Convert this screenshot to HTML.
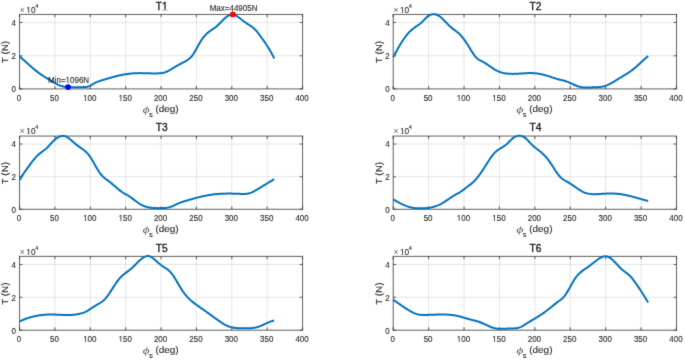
<!DOCTYPE html>
<html><head><meta charset="utf-8"><style>
html,body{margin:0;padding:0;background:#fff;overflow:hidden;width:685px;height:361px;}
svg{display:block;font-family:"Liberation Sans", sans-serif;}
</style></head><body>
<svg width="685" height="361" viewBox="0 0 685 361">
<defs><filter id="bl" x="0" y="0" width="685" height="361" filterUnits="userSpaceOnUse" color-interpolation-filters="sRGB"><feConvolveMatrix order="3" kernelMatrix="0.0183 0.1353 0.0183 0.1353 1.0000 0.1353 0.0183 0.1353 0.0183" edgeMode="duplicate"/></filter></defs><g filter="url(#bl)"><rect width="685" height="361" fill="#fff"/>
<path d="M54.92 14.45V88.90M90.30 14.45V88.90M125.67 14.45V88.90M161.05 14.45V88.90M196.43 14.45V88.90M231.80 14.45V88.90M267.18 14.45V88.90M19.55 55.74H302.55M19.55 22.58H302.55" stroke="#e0e0e0" stroke-width="0.85" fill="none"/>
<path d="M19.55 88.90v-2.9M19.55 14.45v2.9M54.92 88.90v-2.9M54.92 14.45v2.9M90.30 88.90v-2.9M90.30 14.45v2.9M125.67 88.90v-2.9M125.67 14.45v2.9M161.05 88.90v-2.9M161.05 14.45v2.9M196.43 88.90v-2.9M196.43 14.45v2.9M231.80 88.90v-2.9M231.80 14.45v2.9M267.18 88.90v-2.9M267.18 14.45v2.9M302.55 88.90v-2.9M302.55 14.45v2.9M19.55 88.90h2.9M302.55 88.90h-2.9M19.55 55.74h2.9M302.55 55.74h-2.9M19.55 22.58h2.9M302.55 22.58h-2.9" stroke="#262626" stroke-opacity="0.7" stroke-width="1.05" fill="none"/>
<rect x="19.55" y="14.45" width="283.00" height="74.45" fill="none" stroke="#262626" stroke-width="1.05" stroke-opacity="0.7"/>
<polyline points="19.55,56.34 20.19,56.89 20.83,57.44 21.47,58.00 22.10,58.56 22.74,59.13 23.38,59.70 24.02,60.27 24.66,60.84 25.30,61.42 25.93,61.99 26.57,62.57 27.21,63.15 27.85,63.73 28.49,64.30 29.13,64.88 29.76,65.45 30.40,66.02 31.04,66.58 31.68,67.14 32.32,67.70 32.96,68.25 33.59,68.79 34.23,69.33 34.87,69.86 35.51,70.38 36.15,70.90 36.79,71.40 37.42,71.90 38.06,72.38 38.70,72.86 39.34,73.32 39.98,73.78 40.62,74.23 41.25,74.67 41.89,75.10 42.53,75.52 43.17,75.94 43.81,76.35 44.45,76.76 45.08,77.16 45.72,77.56 46.36,77.95 47.00,78.34 47.64,78.73 48.28,79.12 48.91,79.50 49.55,79.88 50.19,80.27 50.83,80.65 51.47,81.04 52.11,81.42 52.74,81.81 53.38,82.19 54.02,82.57 54.66,82.94 55.30,83.30 55.94,83.65 56.57,83.99 57.21,84.32 57.85,84.63 58.49,84.92 59.13,85.20 59.77,85.46 60.40,85.69 61.04,85.90 61.68,86.09 62.32,86.26 62.96,86.42 63.60,86.55 64.23,86.67 64.87,86.78 65.51,86.87 66.15,86.96 66.79,87.03 67.43,87.09 68.06,87.14 68.70,87.19 69.34,87.23 69.98,87.27 70.62,87.30 71.26,87.32 71.89,87.34 72.53,87.35 73.17,87.36 73.81,87.36 74.45,87.36 75.09,87.36 75.72,87.35 76.36,87.34 77.00,87.33 77.64,87.31 78.28,87.29 78.92,87.27 79.55,87.24 80.19,87.22 80.83,87.19 81.47,87.16 82.11,87.13 82.75,87.10 83.38,87.07 84.02,87.03 84.66,87.00 85.30,86.96 85.94,86.90 86.58,86.82 87.21,86.70 87.85,86.54 88.49,86.34 89.13,86.09 89.77,85.80 90.41,85.48 91.04,85.14 91.68,84.78 92.32,84.40 92.96,84.03 93.60,83.66 94.24,83.30 94.87,82.96 95.51,82.65 96.15,82.35 96.79,82.07 97.43,81.81 98.07,81.56 98.70,81.33 99.34,81.11 99.98,80.89 100.62,80.69 101.26,80.49 101.90,80.30 102.53,80.11 103.17,79.92 103.81,79.73 104.45,79.54 105.09,79.35 105.73,79.16 106.37,78.97 107.00,78.78 107.64,78.59 108.28,78.40 108.92,78.21 109.56,78.02 110.20,77.83 110.83,77.65 111.47,77.46 112.11,77.28 112.75,77.10 113.39,76.92 114.03,76.75 114.66,76.58 115.30,76.41 115.94,76.24 116.58,76.08 117.22,75.93 117.86,75.77 118.49,75.62 119.13,75.48 119.77,75.34 120.41,75.20 121.05,75.07 121.69,74.94 122.32,74.82 122.96,74.70 123.60,74.58 124.24,74.47 124.88,74.36 125.52,74.26 126.15,74.16 126.79,74.07 127.43,73.98 128.07,73.90 128.71,73.81 129.35,73.74 129.98,73.67 130.62,73.60 131.26,73.54 131.90,73.48 132.54,73.42 133.18,73.37 133.81,73.33 134.45,73.29 135.09,73.25 135.73,73.22 136.37,73.19 137.01,73.17 137.64,73.15 138.28,73.14 138.92,73.13 139.56,73.12 140.20,73.12 140.84,73.12 141.47,73.13 142.11,73.14 142.75,73.15 143.39,73.16 144.03,73.18 144.67,73.20 145.30,73.21 145.94,73.23 146.58,73.25 147.22,73.27 147.86,73.30 148.50,73.31 149.13,73.33 149.77,73.35 150.41,73.37 151.05,73.38 151.69,73.40 152.33,73.41 152.96,73.42 153.60,73.42 154.24,73.42 154.88,73.42 155.52,73.41 156.16,73.40 156.79,73.39 157.43,73.37 158.07,73.34 158.71,73.31 159.35,73.27 159.99,73.22 160.62,73.16 161.26,73.09 161.90,73.00 162.54,72.90 163.18,72.77 163.82,72.63 164.45,72.46 165.09,72.27 165.73,72.05 166.37,71.80 167.01,71.53 167.65,71.23 168.28,70.91 168.92,70.58 169.56,70.23 170.20,69.87 170.84,69.49 171.48,69.11 172.11,68.72 172.75,68.32 173.39,67.92 174.03,67.52 174.67,67.13 175.31,66.74 175.94,66.35 176.58,65.98 177.22,65.61 177.86,65.26 178.50,64.91 179.14,64.57 179.77,64.24 180.41,63.90 181.05,63.57 181.69,63.24 182.33,62.91 182.97,62.57 183.60,62.23 184.24,61.88 184.88,61.52 185.52,61.15 186.16,60.77 186.80,60.38 187.43,59.97 188.07,59.54 188.71,59.09 189.35,58.60 189.99,58.07 190.63,57.47 191.27,56.80 191.90,56.05 192.54,55.21 193.18,54.29 193.82,53.30 194.46,52.26 195.10,51.17 195.73,50.05 196.37,48.90 197.01,47.74 197.65,46.58 198.29,45.43 198.93,44.29 199.56,43.17 200.20,42.09 200.84,41.04 201.48,40.04 202.12,39.09 202.76,38.20 203.39,37.35 204.03,36.56 204.67,35.82 205.31,35.12 205.95,34.46 206.59,33.84 207.22,33.25 207.86,32.69 208.50,32.16 209.14,31.66 209.78,31.18 210.42,30.72 211.05,30.27 211.69,29.84 212.33,29.42 212.97,28.99 213.61,28.57 214.25,28.13 214.88,27.67 215.52,27.19 216.16,26.68 216.80,26.13 217.44,25.56 218.08,24.96 218.71,24.35 219.35,23.72 219.99,23.07 220.63,22.43 221.27,21.77 221.91,21.12 222.54,20.48 223.18,19.85 223.82,19.23 224.46,18.63 225.10,18.05 225.74,17.50 226.37,16.98 227.01,16.50 227.65,16.05 228.29,15.66 228.93,15.31 229.57,15.01 230.20,14.77 230.84,14.59 231.48,14.48 232.12,14.44 232.76,14.47 233.40,14.57 234.03,14.74 234.67,14.98 235.31,15.26 235.95,15.60 236.59,15.98 237.23,16.39 237.86,16.84 238.50,17.31 239.14,17.80 239.78,18.30 240.42,18.81 241.06,19.32 241.69,19.83 242.33,20.33 242.97,20.81 243.61,21.28 244.25,21.73 244.89,22.18 245.52,22.61 246.16,23.04 246.80,23.46 247.44,23.87 248.08,24.27 248.72,24.67 249.35,25.07 249.99,25.48 250.63,25.90 251.27,26.33 251.91,26.79 252.55,27.27 253.18,27.77 253.82,28.31 254.46,28.89 255.10,29.51 255.74,30.18 256.38,30.89 257.01,31.65 257.65,32.45 258.29,33.28 258.93,34.12 259.57,34.98 260.21,35.85 260.84,36.72 261.48,37.59 262.12,38.47 262.76,39.35 263.40,40.25 264.04,41.15 264.67,42.08 265.31,43.01 265.95,43.97 266.59,44.94 267.23,45.93 267.87,46.94 268.50,47.97 269.14,49.03 269.78,50.11 270.42,51.21 271.06,52.34 271.70,53.50 272.33,54.69 272.97,55.91 273.61,57.16 274.25,58.44" fill="none" stroke="#0072BD" stroke-width="2.0" stroke-linejoin="round"/>
<text transform="translate(19.05,100.50) scale(1.000,1.180)" font-size="8.0" text-anchor="middle" fill="#262626"  stroke="#262626" stroke-width="0.1">0</text>
<text transform="translate(54.42,100.50) scale(1.000,1.180)" font-size="8.0" text-anchor="middle" fill="#262626"  stroke="#262626" stroke-width="0.1">50</text>
<text transform="translate(89.80,100.50) scale(1.000,1.180)" font-size="8.0" text-anchor="middle" fill="#262626"  stroke="#262626" stroke-width="0.1">100</text>
<g transform="translate(89.80,100.50) scale(1.000,1.180)"><rect x="-6.28" y="-0.77" width="1.57" height="1.12" fill="#fff"/><rect x="-3.91" y="-0.77" width="1.53" height="1.12" fill="#fff"/></g>
<text transform="translate(125.17,100.50) scale(1.000,1.180)" font-size="8.0" text-anchor="middle" fill="#262626"  stroke="#262626" stroke-width="0.1">150</text>
<g transform="translate(125.17,100.50) scale(1.000,1.180)"><rect x="-6.28" y="-0.77" width="1.57" height="1.12" fill="#fff"/><rect x="-3.91" y="-0.77" width="1.53" height="1.12" fill="#fff"/></g>
<text transform="translate(160.55,100.50) scale(1.000,1.180)" font-size="8.0" text-anchor="middle" fill="#262626"  stroke="#262626" stroke-width="0.1">200</text>
<text transform="translate(195.93,100.50) scale(1.000,1.180)" font-size="8.0" text-anchor="middle" fill="#262626"  stroke="#262626" stroke-width="0.1">250</text>
<text transform="translate(231.30,100.50) scale(1.000,1.180)" font-size="8.0" text-anchor="middle" fill="#262626"  stroke="#262626" stroke-width="0.1">300</text>
<text transform="translate(266.68,100.50) scale(1.000,1.180)" font-size="8.0" text-anchor="middle" fill="#262626"  stroke="#262626" stroke-width="0.1">350</text>
<text transform="translate(302.05,100.50) scale(1.000,1.180)" font-size="8.0" text-anchor="middle" fill="#262626"  stroke="#262626" stroke-width="0.1">400</text>
<text transform="translate(15.95,92.20) scale(1.000,1.180)" font-size="8.0" text-anchor="end" fill="#262626"  stroke="#262626" stroke-width="0.1">0</text>
<text transform="translate(15.95,59.04) scale(1.000,1.180)" font-size="8.0" text-anchor="end" fill="#262626"  stroke="#262626" stroke-width="0.1">2</text>
<text transform="translate(15.95,25.88) scale(1.000,1.180)" font-size="8.0" text-anchor="end" fill="#262626"  stroke="#262626" stroke-width="0.1">4</text>
<text transform="translate(19.80,12.85)" font-size="8.6" text-anchor="start" fill="#666" stroke="none">×</text>
<text transform="translate(26.35,12.60) scale(1.000,1.150)" font-size="8.3" text-anchor="start" fill="#262626"  stroke="#262626" stroke-width="0.1">10</text>
<g transform="translate(26.35,12.60) scale(1.000,1.150)"><rect x="0.41" y="-0.80" width="1.63" height="1.15" fill="#fff"/><rect x="2.87" y="-0.80" width="1.59" height="1.15" fill="#fff"/></g>
<text transform="translate(35.15,7.85)" font-size="5.6" text-anchor="start" fill="#262626"  stroke="#262626" stroke-width="0.1">4</text>
<text transform="translate(161.75,9.75)" font-size="10.2" text-anchor="middle" fill="#1a1a1a" stroke="#1a1a1a" stroke-width="0.35">T1</text>
<g transform="translate(161.75,9.75)"><rect x="0.78" y="-0.99" width="2.01" height="1.34" fill="#fff"/><rect x="3.81" y="-0.99" width="1.95" height="1.34" fill="#fff"/></g>
<text transform="translate(8.45,52.08) scale(1.000,1.120) rotate(-90)" font-size="8.8" text-anchor="middle" fill="#262626"  stroke="#262626" stroke-width="0.1">T (N)</text>
<text transform="translate(142.75,112.50) scale(1.220,1.000)" font-size="10.8" text-anchor="start" font-family="Liberation Serif" fill="#555" font-style="italic" stroke="none">ϕ</text>
<text transform="translate(149.05,117.00)" font-size="7.8" text-anchor="start" fill="#262626"  stroke="#262626" stroke-width="0.1">s</text>
<text transform="translate(155.45,111.90) scale(1.070,1.000)" font-size="9.3" text-anchor="start" fill="#262626"  stroke="#262626" stroke-width="0.1">(deg)</text>
<path d="M428.61 14.45V88.90M464.02 14.45V88.90M499.44 14.45V88.90M534.85 14.45V88.90M570.26 14.45V88.90M605.67 14.45V88.90M641.09 14.45V88.90M393.20 55.74H676.50M393.20 22.58H676.50" stroke="#e0e0e0" stroke-width="0.85" fill="none"/>
<path d="M393.20 88.90v-2.9M393.20 14.45v2.9M428.61 88.90v-2.9M428.61 14.45v2.9M464.02 88.90v-2.9M464.02 14.45v2.9M499.44 88.90v-2.9M499.44 14.45v2.9M534.85 88.90v-2.9M534.85 14.45v2.9M570.26 88.90v-2.9M570.26 14.45v2.9M605.67 88.90v-2.9M605.67 14.45v2.9M641.09 88.90v-2.9M641.09 14.45v2.9M676.50 88.90v-2.9M676.50 14.45v2.9M393.20 88.90h2.9M676.50 88.90h-2.9M393.20 55.74h2.9M676.50 55.74h-2.9M393.20 22.58h2.9M676.50 22.58h-2.9" stroke="#262626" stroke-opacity="0.7" stroke-width="1.05" fill="none"/>
<rect x="393.20" y="14.45" width="283.30" height="74.45" fill="none" stroke="#262626" stroke-width="1.05" stroke-opacity="0.7"/>
<polyline points="393.20,57.32 393.84,56.09 394.48,54.87 395.12,53.66 395.76,52.47 396.40,51.29 397.03,50.13 397.67,48.98 398.31,47.85 398.95,46.74 399.59,45.65 400.23,44.58 400.87,43.53 401.51,42.50 402.15,41.50 402.79,40.52 403.42,39.57 404.06,38.64 404.70,37.73 405.34,36.86 405.98,36.01 406.62,35.20 407.26,34.41 407.90,33.66 408.54,32.94 409.18,32.25 409.81,31.60 410.45,30.98 411.09,30.39 411.73,29.83 412.37,29.29 413.01,28.78 413.65,28.28 414.29,27.81 414.93,27.34 415.57,26.89 416.20,26.45 416.84,26.01 417.48,25.58 418.12,25.15 418.76,24.71 419.40,24.26 420.04,23.78 420.68,23.28 421.32,22.74 421.96,22.15 422.60,21.51 423.23,20.84 423.87,20.14 424.51,19.44 425.15,18.76 425.79,18.10 426.43,17.48 427.07,16.91 427.71,16.39 428.35,15.93 428.99,15.52 429.62,15.16 430.26,14.85 430.90,14.60 431.54,14.40 432.18,14.26 432.82,14.17 433.46,14.13 434.10,14.15 434.74,14.21 435.38,14.33 436.01,14.50 436.65,14.72 437.29,14.99 437.93,15.30 438.57,15.67 439.21,16.08 439.85,16.54 440.49,17.04 441.13,17.57 441.77,18.13 442.40,18.73 443.04,19.34 443.68,19.97 444.32,20.62 444.96,21.28 445.60,21.95 446.24,22.62 446.88,23.29 447.52,23.96 448.16,24.61 448.79,25.25 449.43,25.88 450.07,26.48 450.71,27.06 451.35,27.61 451.99,28.13 452.63,28.63 453.27,29.11 453.91,29.58 454.55,30.04 455.19,30.50 455.82,30.97 456.46,31.45 457.10,31.94 457.74,32.46 458.38,33.00 459.02,33.58 459.66,34.19 460.30,34.84 460.94,35.54 461.58,36.27 462.21,37.05 462.85,37.85 463.49,38.69 464.13,39.56 464.77,40.45 465.41,41.38 466.05,42.32 466.69,43.29 467.33,44.28 467.97,45.28 468.60,46.30 469.24,47.33 469.88,48.37 470.52,49.41 471.16,50.44 471.80,51.45 472.44,52.45 473.08,53.41 473.72,54.34 474.36,55.23 474.99,56.06 475.63,56.84 476.27,57.55 476.91,58.19 477.55,58.75 478.19,59.24 478.83,59.67 479.47,60.05 480.11,60.40 480.75,60.72 481.39,61.03 482.02,61.33 482.66,61.66 483.30,62.00 483.94,62.36 484.58,62.74 485.22,63.13 485.86,63.54 486.50,63.96 487.14,64.39 487.78,64.82 488.41,65.26 489.05,65.71 489.69,66.15 490.33,66.60 490.97,67.04 491.61,67.48 492.25,67.91 492.89,68.34 493.53,68.75 494.17,69.15 494.80,69.54 495.44,69.91 496.08,70.26 496.72,70.59 497.36,70.91 498.00,71.20 498.64,71.47 499.28,71.73 499.92,71.97 500.56,72.19 501.19,72.39 501.83,72.58 502.47,72.75 503.11,72.91 503.75,73.06 504.39,73.19 505.03,73.30 505.67,73.41 506.31,73.50 506.95,73.58 507.59,73.65 508.22,73.71 508.86,73.76 509.50,73.80 510.14,73.83 510.78,73.86 511.42,73.87 512.06,73.88 512.70,73.88 513.34,73.88 513.98,73.87 514.61,73.86 515.25,73.84 515.89,73.81 516.53,73.79 517.17,73.75 517.81,73.72 518.45,73.68 519.09,73.64 519.73,73.60 520.37,73.56 521.00,73.52 521.64,73.47 522.28,73.43 522.92,73.39 523.56,73.34 524.20,73.30 524.84,73.26 525.48,73.23 526.12,73.19 526.76,73.16 527.39,73.14 528.03,73.11 528.67,73.10 529.31,73.08 529.95,73.07 530.59,73.07 531.23,73.08 531.87,73.09 532.51,73.11 533.15,73.13 533.78,73.17 534.42,73.21 535.06,73.26 535.70,73.32 536.34,73.39 536.98,73.47 537.62,73.56 538.26,73.66 538.90,73.77 539.54,73.88 540.18,74.00 540.81,74.13 541.45,74.27 542.09,74.41 542.73,74.56 543.37,74.72 544.01,74.88 544.65,75.05 545.29,75.22 545.93,75.40 546.57,75.59 547.20,75.78 547.84,75.97 548.48,76.17 549.12,76.37 549.76,76.57 550.40,76.78 551.04,76.99 551.68,77.20 552.32,77.42 552.96,77.63 553.59,77.84 554.23,78.05 554.87,78.26 555.51,78.47 556.15,78.67 556.79,78.87 557.43,79.06 558.07,79.24 558.71,79.42 559.35,79.58 559.98,79.74 560.62,79.89 561.26,80.03 561.90,80.18 562.54,80.32 563.18,80.47 563.82,80.63 564.46,80.80 565.10,80.99 565.74,81.19 566.38,81.42 567.01,81.65 567.65,81.90 568.29,82.16 568.93,82.43 569.57,82.71 570.21,83.00 570.85,83.29 571.49,83.58 572.13,83.87 572.77,84.16 573.40,84.45 574.04,84.73 574.68,85.01 575.32,85.28 575.96,85.54 576.60,85.80 577.24,86.03 577.88,86.26 578.52,86.46 579.16,86.65 579.79,86.82 580.43,86.97 581.07,87.10 581.71,87.21 582.35,87.30 582.99,87.38 583.63,87.44 584.27,87.48 584.91,87.52 585.55,87.54 586.18,87.55 586.82,87.55 587.46,87.55 588.10,87.53 588.74,87.51 589.38,87.49 590.02,87.46 590.66,87.43 591.30,87.40 591.94,87.37 592.58,87.34 593.21,87.31 593.85,87.29 594.49,87.27 595.13,87.25 595.77,87.23 596.41,87.21 597.05,87.18 597.69,87.15 598.33,87.12 598.97,87.07 599.60,87.02 600.24,86.96 600.88,86.88 601.52,86.79 602.16,86.68 602.80,86.56 603.44,86.42 604.08,86.25 604.72,86.07 605.36,85.87 605.99,85.64 606.63,85.40 607.27,85.13 607.91,84.85 608.55,84.56 609.19,84.25 609.83,83.92 610.47,83.59 611.11,83.24 611.75,82.89 612.38,82.52 613.02,82.15 613.66,81.77 614.30,81.38 614.94,80.99 615.58,80.60 616.22,80.21 616.86,79.82 617.50,79.42 618.14,79.03 618.77,78.64 619.41,78.26 620.05,77.87 620.69,77.49 621.33,77.11 621.97,76.73 622.61,76.35 623.25,75.97 623.89,75.58 624.53,75.19 625.17,74.80 625.80,74.41 626.44,74.01 627.08,73.60 627.72,73.19 628.36,72.77 629.00,72.35 629.64,71.91 630.28,71.47 630.92,71.02 631.56,70.56 632.19,70.08 632.83,69.60 633.47,69.10 634.11,68.59 634.75,68.07 635.39,67.53 636.03,66.98 636.67,66.42 637.31,65.85 637.95,65.27 638.58,64.68 639.22,64.09 639.86,63.49 640.50,62.89 641.14,62.29 641.78,61.69 642.42,61.09 643.06,60.49 643.70,59.90 644.34,59.32 644.97,58.75 645.61,58.18 646.25,57.63 646.89,57.09 647.53,56.56 648.17,56.05" fill="none" stroke="#0072BD" stroke-width="2.0" stroke-linejoin="round"/>
<text transform="translate(392.70,100.50) scale(1.000,1.180)" font-size="8.0" text-anchor="middle" fill="#262626"  stroke="#262626" stroke-width="0.1">0</text>
<text transform="translate(428.11,100.50) scale(1.000,1.180)" font-size="8.0" text-anchor="middle" fill="#262626"  stroke="#262626" stroke-width="0.1">50</text>
<text transform="translate(463.52,100.50) scale(1.000,1.180)" font-size="8.0" text-anchor="middle" fill="#262626"  stroke="#262626" stroke-width="0.1">100</text>
<g transform="translate(463.52,100.50) scale(1.000,1.180)"><rect x="-6.28" y="-0.77" width="1.57" height="1.12" fill="#fff"/><rect x="-3.91" y="-0.77" width="1.53" height="1.12" fill="#fff"/></g>
<text transform="translate(498.94,100.50) scale(1.000,1.180)" font-size="8.0" text-anchor="middle" fill="#262626"  stroke="#262626" stroke-width="0.1">150</text>
<g transform="translate(498.94,100.50) scale(1.000,1.180)"><rect x="-6.28" y="-0.77" width="1.57" height="1.12" fill="#fff"/><rect x="-3.91" y="-0.77" width="1.53" height="1.12" fill="#fff"/></g>
<text transform="translate(534.35,100.50) scale(1.000,1.180)" font-size="8.0" text-anchor="middle" fill="#262626"  stroke="#262626" stroke-width="0.1">200</text>
<text transform="translate(569.76,100.50) scale(1.000,1.180)" font-size="8.0" text-anchor="middle" fill="#262626"  stroke="#262626" stroke-width="0.1">250</text>
<text transform="translate(605.17,100.50) scale(1.000,1.180)" font-size="8.0" text-anchor="middle" fill="#262626"  stroke="#262626" stroke-width="0.1">300</text>
<text transform="translate(640.59,100.50) scale(1.000,1.180)" font-size="8.0" text-anchor="middle" fill="#262626"  stroke="#262626" stroke-width="0.1">350</text>
<text transform="translate(676.00,100.50) scale(1.000,1.180)" font-size="8.0" text-anchor="middle" fill="#262626"  stroke="#262626" stroke-width="0.1">400</text>
<text transform="translate(389.60,92.20) scale(1.000,1.180)" font-size="8.0" text-anchor="end" fill="#262626"  stroke="#262626" stroke-width="0.1">0</text>
<text transform="translate(389.60,59.04) scale(1.000,1.180)" font-size="8.0" text-anchor="end" fill="#262626"  stroke="#262626" stroke-width="0.1">2</text>
<text transform="translate(389.60,25.88) scale(1.000,1.180)" font-size="8.0" text-anchor="end" fill="#262626"  stroke="#262626" stroke-width="0.1">4</text>
<text transform="translate(393.45,12.85)" font-size="8.6" text-anchor="start" fill="#666" stroke="none">×</text>
<text transform="translate(400.00,12.60) scale(1.000,1.150)" font-size="8.3" text-anchor="start" fill="#262626"  stroke="#262626" stroke-width="0.1">10</text>
<g transform="translate(400.00,12.60) scale(1.000,1.150)"><rect x="0.41" y="-0.80" width="1.63" height="1.15" fill="#fff"/><rect x="2.87" y="-0.80" width="1.59" height="1.15" fill="#fff"/></g>
<text transform="translate(408.80,7.85)" font-size="5.6" text-anchor="start" fill="#262626"  stroke="#262626" stroke-width="0.1">4</text>
<text transform="translate(535.55,9.75)" font-size="10.2" text-anchor="middle" fill="#1a1a1a" stroke="#1a1a1a" stroke-width="0.35">T2</text>
<text transform="translate(382.10,52.08) scale(1.000,1.120) rotate(-90)" font-size="8.8" text-anchor="middle" fill="#262626"  stroke="#262626" stroke-width="0.1">T (N)</text>
<text transform="translate(516.55,112.50) scale(1.220,1.000)" font-size="10.8" text-anchor="start" font-family="Liberation Serif" fill="#555" font-style="italic" stroke="none">ϕ</text>
<text transform="translate(522.85,117.00)" font-size="7.8" text-anchor="start" fill="#262626"  stroke="#262626" stroke-width="0.1">s</text>
<text transform="translate(529.25,111.90) scale(1.070,1.000)" font-size="9.3" text-anchor="start" fill="#262626"  stroke="#262626" stroke-width="0.1">(deg)</text>
<path d="M54.92 136.07V209.30M90.30 136.07V209.30M125.67 136.07V209.30M161.05 136.07V209.30M196.43 136.07V209.30M231.80 136.07V209.30M267.18 136.07V209.30M19.55 176.68H302.55M19.55 144.07H302.55" stroke="#e0e0e0" stroke-width="0.85" fill="none"/>
<path d="M19.55 209.30v-2.9M19.55 136.07v2.9M54.92 209.30v-2.9M54.92 136.07v2.9M90.30 209.30v-2.9M90.30 136.07v2.9M125.67 209.30v-2.9M125.67 136.07v2.9M161.05 209.30v-2.9M161.05 136.07v2.9M196.43 209.30v-2.9M196.43 136.07v2.9M231.80 209.30v-2.9M231.80 136.07v2.9M267.18 209.30v-2.9M267.18 136.07v2.9M302.55 209.30v-2.9M302.55 136.07v2.9M19.55 209.30h2.9M302.55 209.30h-2.9M19.55 176.68h2.9M302.55 176.68h-2.9M19.55 144.07h2.9M302.55 144.07h-2.9" stroke="#262626" stroke-opacity="0.7" stroke-width="1.05" fill="none"/>
<rect x="19.55" y="136.07" width="283.00" height="73.23" fill="none" stroke="#262626" stroke-width="1.05" stroke-opacity="0.7"/>
<polyline points="19.55,180.08 20.19,178.99 20.83,177.92 21.47,176.89 22.10,175.88 22.74,174.89 23.38,173.92 24.02,172.98 24.66,172.04 25.30,171.13 25.93,170.22 26.57,169.32 27.21,168.44 27.85,167.56 28.49,166.68 29.13,165.80 29.76,164.93 30.40,164.06 31.04,163.20 31.68,162.35 32.32,161.51 32.96,160.69 33.59,159.88 34.23,159.10 34.87,158.34 35.51,157.61 36.15,156.90 36.79,156.22 37.42,155.58 38.06,154.98 38.70,154.41 39.34,153.87 39.98,153.35 40.62,152.86 41.25,152.38 41.89,151.91 42.53,151.44 43.17,150.98 43.81,150.50 44.45,150.01 45.08,149.51 45.72,148.97 46.36,148.41 47.00,147.82 47.64,147.19 48.28,146.52 48.91,145.83 49.55,145.13 50.19,144.42 50.83,143.71 51.47,143.02 52.11,142.34 52.74,141.69 53.38,141.06 54.02,140.45 54.66,139.88 55.30,139.33 55.94,138.82 56.57,138.34 57.21,137.90 57.85,137.50 58.49,137.14 59.13,136.82 59.77,136.54 60.40,136.31 61.04,136.13 61.68,135.99 62.32,135.91 62.96,135.88 63.60,135.91 64.23,136.00 64.87,136.14 65.51,136.35 66.15,136.61 66.79,136.93 67.43,137.31 68.06,137.72 68.70,138.17 69.34,138.66 69.98,139.18 70.62,139.71 71.26,140.27 71.89,140.83 72.53,141.40 73.17,141.97 73.81,142.54 74.45,143.09 75.09,143.63 75.72,144.15 76.36,144.66 77.00,145.16 77.64,145.64 78.28,146.11 78.92,146.57 79.55,147.02 80.19,147.46 80.83,147.91 81.47,148.35 82.11,148.80 82.75,149.27 83.38,149.74 84.02,150.24 84.66,150.76 85.30,151.31 85.94,151.89 86.58,152.51 87.21,153.16 87.85,153.86 88.49,154.61 89.13,155.41 89.77,156.27 90.41,157.19 91.04,158.17 91.68,159.20 92.32,160.26 92.96,161.36 93.60,162.48 94.24,163.62 94.87,164.76 95.51,165.91 96.15,167.04 96.79,168.15 97.43,169.24 98.07,170.29 98.70,171.30 99.34,172.26 99.98,173.16 100.62,173.99 101.26,174.76 101.90,175.47 102.53,176.14 103.17,176.76 103.81,177.34 104.45,177.89 105.09,178.42 105.73,178.92 106.37,179.41 107.00,179.89 107.64,180.37 108.28,180.84 108.92,181.33 109.56,181.83 110.20,182.33 110.83,182.84 111.47,183.36 112.11,183.88 112.75,184.42 113.39,184.96 114.03,185.50 114.66,186.06 115.30,186.61 115.94,187.16 116.58,187.71 117.22,188.26 117.86,188.80 118.49,189.34 119.13,189.86 119.77,190.37 120.41,190.86 121.05,191.34 121.69,191.80 122.32,192.24 122.96,192.66 123.60,193.05 124.24,193.42 124.88,193.78 125.52,194.12 126.15,194.46 126.79,194.81 127.43,195.16 128.07,195.53 128.71,195.92 129.35,196.34 129.98,196.77 130.62,197.21 131.26,197.67 131.90,198.15 132.54,198.63 133.18,199.11 133.81,199.60 134.45,200.09 135.09,200.58 135.73,201.07 136.37,201.55 137.01,202.02 137.64,202.48 138.28,202.92 138.92,203.35 139.56,203.76 140.20,204.15 140.84,204.51 141.47,204.85 142.11,205.17 142.75,205.47 143.39,205.75 144.03,206.01 144.67,206.25 145.30,206.47 145.94,206.68 146.58,206.86 147.22,207.04 147.86,207.19 148.50,207.33 149.13,207.46 149.77,207.57 150.41,207.67 151.05,207.76 151.69,207.84 152.33,207.90 152.96,207.96 153.60,208.01 154.24,208.04 154.88,208.08 155.52,208.10 156.16,208.11 156.79,208.12 157.43,208.13 158.07,208.13 158.71,208.13 159.35,208.12 159.99,208.11 160.62,208.10 161.26,208.09 161.90,208.08 162.54,208.06 163.18,208.04 163.82,208.02 164.45,207.98 165.09,207.94 165.73,207.88 166.37,207.81 167.01,207.73 167.65,207.63 168.28,207.51 168.92,207.37 169.56,207.21 170.20,207.03 170.84,206.82 171.48,206.58 172.11,206.32 172.75,206.04 173.39,205.74 174.03,205.44 174.67,205.12 175.31,204.81 175.94,204.51 176.58,204.21 177.22,203.92 177.86,203.64 178.50,203.37 179.14,203.11 179.77,202.86 180.41,202.62 181.05,202.39 181.69,202.16 182.33,201.94 182.97,201.72 183.60,201.51 184.24,201.31 184.88,201.11 185.52,200.92 186.16,200.73 186.80,200.54 187.43,200.35 188.07,200.17 188.71,199.99 189.35,199.81 189.99,199.64 190.63,199.46 191.27,199.28 191.90,199.11 192.54,198.93 193.18,198.75 193.82,198.58 194.46,198.40 195.10,198.23 195.73,198.06 196.37,197.89 197.01,197.72 197.65,197.55 198.29,197.38 198.93,197.22 199.56,197.06 200.20,196.90 200.84,196.74 201.48,196.59 202.12,196.44 202.76,196.29 203.39,196.15 204.03,196.01 204.67,195.87 205.31,195.74 205.95,195.61 206.59,195.49 207.22,195.37 207.86,195.26 208.50,195.15 209.14,195.05 209.78,194.94 210.42,194.85 211.05,194.76 211.69,194.67 212.33,194.58 212.97,194.50 213.61,194.43 214.25,194.35 214.88,194.28 215.52,194.22 216.16,194.16 216.80,194.10 217.44,194.05 218.08,193.99 218.71,193.95 219.35,193.90 219.99,193.86 220.63,193.82 221.27,193.79 221.91,193.76 222.54,193.73 223.18,193.70 223.82,193.68 224.46,193.66 225.10,193.64 225.74,193.63 226.37,193.62 227.01,193.61 227.65,193.60 228.29,193.59 228.93,193.59 229.57,193.59 230.20,193.59 230.84,193.60 231.48,193.61 232.12,193.61 232.76,193.63 233.40,193.64 234.03,193.65 234.67,193.67 235.31,193.69 235.95,193.71 236.59,193.73 237.23,193.75 237.86,193.77 238.50,193.80 239.14,193.83 239.78,193.85 240.42,193.88 241.06,193.91 241.69,193.93 242.33,193.95 242.97,193.96 243.61,193.96 244.25,193.95 244.89,193.92 245.52,193.89 246.16,193.83 246.80,193.76 247.44,193.67 248.08,193.56 248.72,193.42 249.35,193.26 249.99,193.07 250.63,192.85 251.27,192.61 251.91,192.34 252.55,192.04 253.18,191.73 253.82,191.39 254.46,191.05 255.10,190.69 255.74,190.33 256.38,189.96 257.01,189.59 257.65,189.22 258.29,188.84 258.93,188.46 259.57,188.07 260.21,187.69 260.84,187.30 261.48,186.91 262.12,186.52 262.76,186.13 263.40,185.73 264.04,185.34 264.67,184.94 265.31,184.55 265.95,184.16 266.59,183.76 267.23,183.37 267.87,182.98 268.50,182.59 269.14,182.20 269.78,181.82 270.42,181.44 271.06,181.06 271.70,180.68 272.33,180.30 272.97,179.93 273.61,179.56 274.25,179.20" fill="none" stroke="#0072BD" stroke-width="2.0" stroke-linejoin="round"/>
<text transform="translate(19.05,220.90) scale(1.000,1.180)" font-size="8.0" text-anchor="middle" fill="#262626"  stroke="#262626" stroke-width="0.1">0</text>
<text transform="translate(54.42,220.90) scale(1.000,1.180)" font-size="8.0" text-anchor="middle" fill="#262626"  stroke="#262626" stroke-width="0.1">50</text>
<text transform="translate(89.80,220.90) scale(1.000,1.180)" font-size="8.0" text-anchor="middle" fill="#262626"  stroke="#262626" stroke-width="0.1">100</text>
<g transform="translate(89.80,220.90) scale(1.000,1.180)"><rect x="-6.28" y="-0.77" width="1.57" height="1.12" fill="#fff"/><rect x="-3.91" y="-0.77" width="1.53" height="1.12" fill="#fff"/></g>
<text transform="translate(125.17,220.90) scale(1.000,1.180)" font-size="8.0" text-anchor="middle" fill="#262626"  stroke="#262626" stroke-width="0.1">150</text>
<g transform="translate(125.17,220.90) scale(1.000,1.180)"><rect x="-6.28" y="-0.77" width="1.57" height="1.12" fill="#fff"/><rect x="-3.91" y="-0.77" width="1.53" height="1.12" fill="#fff"/></g>
<text transform="translate(160.55,220.90) scale(1.000,1.180)" font-size="8.0" text-anchor="middle" fill="#262626"  stroke="#262626" stroke-width="0.1">200</text>
<text transform="translate(195.93,220.90) scale(1.000,1.180)" font-size="8.0" text-anchor="middle" fill="#262626"  stroke="#262626" stroke-width="0.1">250</text>
<text transform="translate(231.30,220.90) scale(1.000,1.180)" font-size="8.0" text-anchor="middle" fill="#262626"  stroke="#262626" stroke-width="0.1">300</text>
<text transform="translate(266.68,220.90) scale(1.000,1.180)" font-size="8.0" text-anchor="middle" fill="#262626"  stroke="#262626" stroke-width="0.1">350</text>
<text transform="translate(302.05,220.90) scale(1.000,1.180)" font-size="8.0" text-anchor="middle" fill="#262626"  stroke="#262626" stroke-width="0.1">400</text>
<text transform="translate(15.95,212.60) scale(1.000,1.180)" font-size="8.0" text-anchor="end" fill="#262626"  stroke="#262626" stroke-width="0.1">0</text>
<text transform="translate(15.95,179.98) scale(1.000,1.180)" font-size="8.0" text-anchor="end" fill="#262626"  stroke="#262626" stroke-width="0.1">2</text>
<text transform="translate(15.95,147.37) scale(1.000,1.180)" font-size="8.0" text-anchor="end" fill="#262626"  stroke="#262626" stroke-width="0.1">4</text>
<text transform="translate(19.80,134.47)" font-size="8.6" text-anchor="start" fill="#666" stroke="none">×</text>
<text transform="translate(26.35,134.22) scale(1.000,1.150)" font-size="8.3" text-anchor="start" fill="#262626"  stroke="#262626" stroke-width="0.1">10</text>
<g transform="translate(26.35,134.22) scale(1.000,1.150)"><rect x="0.41" y="-0.80" width="1.63" height="1.15" fill="#fff"/><rect x="2.87" y="-0.80" width="1.59" height="1.15" fill="#fff"/></g>
<text transform="translate(35.15,129.47)" font-size="5.6" text-anchor="start" fill="#262626"  stroke="#262626" stroke-width="0.1">4</text>
<text transform="translate(161.75,131.37)" font-size="10.2" text-anchor="middle" fill="#1a1a1a" stroke="#1a1a1a" stroke-width="0.35">T3</text>
<text transform="translate(8.45,173.09) scale(1.000,1.120) rotate(-90)" font-size="8.8" text-anchor="middle" fill="#262626"  stroke="#262626" stroke-width="0.1">T (N)</text>
<text transform="translate(142.75,232.90) scale(1.220,1.000)" font-size="10.8" text-anchor="start" font-family="Liberation Serif" fill="#555" font-style="italic" stroke="none">ϕ</text>
<text transform="translate(149.05,237.40)" font-size="7.8" text-anchor="start" fill="#262626"  stroke="#262626" stroke-width="0.1">s</text>
<text transform="translate(155.45,232.30) scale(1.070,1.000)" font-size="9.3" text-anchor="start" fill="#262626"  stroke="#262626" stroke-width="0.1">(deg)</text>
<path d="M428.61 136.07V209.30M464.02 136.07V209.30M499.44 136.07V209.30M534.85 136.07V209.30M570.26 136.07V209.30M605.67 136.07V209.30M641.09 136.07V209.30M393.20 176.68H676.50M393.20 144.07H676.50" stroke="#e0e0e0" stroke-width="0.85" fill="none"/>
<path d="M393.20 209.30v-2.9M393.20 136.07v2.9M428.61 209.30v-2.9M428.61 136.07v2.9M464.02 209.30v-2.9M464.02 136.07v2.9M499.44 209.30v-2.9M499.44 136.07v2.9M534.85 209.30v-2.9M534.85 136.07v2.9M570.26 209.30v-2.9M570.26 136.07v2.9M605.67 209.30v-2.9M605.67 136.07v2.9M641.09 209.30v-2.9M641.09 136.07v2.9M676.50 209.30v-2.9M676.50 136.07v2.9M393.20 209.30h2.9M676.50 209.30h-2.9M393.20 176.68h2.9M676.50 176.68h-2.9M393.20 144.07h2.9M676.50 144.07h-2.9" stroke="#262626" stroke-opacity="0.7" stroke-width="1.05" fill="none"/>
<rect x="393.20" y="136.07" width="283.30" height="73.23" fill="none" stroke="#262626" stroke-width="1.05" stroke-opacity="0.7"/>
<polyline points="393.20,199.36 393.84,199.73 394.48,200.11 395.12,200.48 395.76,200.85 396.40,201.22 397.03,201.58 397.67,201.94 398.31,202.29 398.95,202.63 399.59,202.97 400.23,203.31 400.87,203.63 401.51,203.95 402.15,204.26 402.79,204.56 403.42,204.85 404.06,205.13 404.70,205.40 405.34,205.66 405.98,205.91 406.62,206.15 407.26,206.37 407.90,206.59 408.54,206.78 409.18,206.97 409.81,207.14 410.45,207.30 411.09,207.45 411.73,207.58 412.37,207.70 413.01,207.82 413.65,207.92 414.29,208.01 414.93,208.09 415.57,208.16 416.20,208.21 416.84,208.26 417.48,208.30 418.12,208.34 418.76,208.36 419.40,208.37 420.04,208.38 420.68,208.37 421.32,208.37 421.96,208.35 422.60,208.32 423.23,208.29 423.87,208.26 424.51,208.21 425.15,208.16 425.79,208.11 426.43,208.05 427.07,207.98 427.71,207.91 428.35,207.83 428.99,207.74 429.62,207.64 430.26,207.54 430.90,207.42 431.54,207.30 432.18,207.16 432.82,207.01 433.46,206.86 434.10,206.68 434.74,206.50 435.38,206.31 436.01,206.10 436.65,205.87 437.29,205.63 437.93,205.38 438.57,205.11 439.21,204.82 439.85,204.52 440.49,204.20 441.13,203.86 441.77,203.50 442.40,203.13 443.04,202.75 443.68,202.36 444.32,201.95 444.96,201.54 445.60,201.12 446.24,200.69 446.88,200.26 447.52,199.82 448.16,199.39 448.79,198.95 449.43,198.51 450.07,198.08 450.71,197.64 451.35,197.22 451.99,196.80 452.63,196.38 453.27,195.98 453.91,195.59 454.55,195.21 455.19,194.84 455.82,194.48 456.46,194.14 457.10,193.80 457.74,193.46 458.38,193.12 459.02,192.76 459.66,192.39 460.30,192.00 460.94,191.58 461.58,191.14 462.21,190.67 462.85,190.19 463.49,189.69 464.13,189.19 464.77,188.68 465.41,188.17 466.05,187.67 466.69,187.18 467.33,186.71 467.97,186.25 468.60,185.79 469.24,185.33 469.88,184.87 470.52,184.39 471.16,183.89 471.80,183.37 472.44,182.83 473.08,182.24 473.72,181.63 474.36,180.98 474.99,180.30 475.63,179.58 476.27,178.84 476.91,178.08 477.55,177.28 478.19,176.46 478.83,175.62 479.47,174.76 480.11,173.87 480.75,172.97 481.39,172.05 482.02,171.11 482.66,170.16 483.30,169.19 483.94,168.21 484.58,167.22 485.22,166.22 485.86,165.22 486.50,164.22 487.14,163.21 487.78,162.22 488.41,161.23 489.05,160.25 489.69,159.30 490.33,158.36 490.97,157.44 491.61,156.55 492.25,155.70 492.89,154.87 493.53,154.09 494.17,153.35 494.80,152.66 495.44,152.01 496.08,151.43 496.72,150.89 497.36,150.40 498.00,149.95 498.64,149.52 499.28,149.12 499.92,148.74 500.56,148.36 501.19,147.98 501.83,147.60 502.47,147.21 503.11,146.80 503.75,146.38 504.39,145.94 505.03,145.47 505.67,144.98 506.31,144.46 506.95,143.91 507.59,143.33 508.22,142.71 508.86,142.07 509.50,141.42 510.14,140.77 510.78,140.13 511.42,139.50 512.06,138.91 512.70,138.36 513.34,137.85 513.98,137.41 514.61,137.02 515.25,136.68 515.89,136.40 516.53,136.17 517.17,136.00 517.81,135.86 518.45,135.78 519.09,135.74 519.73,135.74 520.37,135.79 521.00,135.89 521.64,136.04 522.28,136.24 522.92,136.50 523.56,136.81 524.20,137.18 524.84,137.62 525.48,138.11 526.12,138.67 526.76,139.27 527.39,139.92 528.03,140.59 528.67,141.28 529.31,141.97 529.95,142.67 530.59,143.36 531.23,144.04 531.87,144.68 532.51,145.29 533.15,145.87 533.78,146.43 534.42,146.97 535.06,147.49 535.70,148.00 536.34,148.50 536.98,148.99 537.62,149.49 538.26,149.99 538.90,150.49 539.54,151.00 540.18,151.52 540.81,152.05 541.45,152.60 542.09,153.16 542.73,153.74 543.37,154.34 544.01,154.96 544.65,155.61 545.29,156.28 545.93,156.98 546.57,157.71 547.20,158.47 547.84,159.26 548.48,160.10 549.12,160.97 549.76,161.88 550.40,162.82 551.04,163.79 551.68,164.78 552.32,165.78 552.96,166.80 553.59,167.81 554.23,168.82 554.87,169.81 555.51,170.79 556.15,171.75 556.79,172.67 557.43,173.56 558.07,174.42 558.71,175.23 559.35,175.99 559.98,176.71 560.62,177.36 561.26,177.95 561.90,178.49 562.54,178.98 563.18,179.43 563.82,179.84 564.46,180.23 565.10,180.61 565.74,180.97 566.38,181.33 567.01,181.69 567.65,182.06 568.29,182.44 568.93,182.82 569.57,183.22 570.21,183.61 570.85,184.02 571.49,184.44 572.13,184.86 572.77,185.29 573.40,185.72 574.04,186.17 574.68,186.61 575.32,187.06 575.96,187.51 576.60,187.95 577.24,188.39 577.88,188.83 578.52,189.25 579.16,189.67 579.79,190.08 580.43,190.47 581.07,190.85 581.71,191.21 582.35,191.56 582.99,191.88 583.63,192.18 584.27,192.46 584.91,192.71 585.55,192.94 586.18,193.15 586.82,193.33 587.46,193.50 588.10,193.64 588.74,193.77 589.38,193.88 590.02,193.97 590.66,194.04 591.30,194.11 591.94,194.15 592.58,194.19 593.21,194.21 593.85,194.22 594.49,194.22 595.13,194.22 595.77,194.20 596.41,194.18 597.05,194.15 597.69,194.12 598.33,194.08 598.97,194.04 599.60,194.00 600.24,193.96 600.88,193.91 601.52,193.87 602.16,193.83 602.80,193.79 603.44,193.76 604.08,193.72 604.72,193.69 605.36,193.66 605.99,193.63 606.63,193.61 607.27,193.59 607.91,193.57 608.55,193.56 609.19,193.55 609.83,193.54 610.47,193.54 611.11,193.54 611.75,193.55 612.38,193.56 613.02,193.57 613.66,193.59 614.30,193.62 614.94,193.65 615.58,193.69 616.22,193.73 616.86,193.77 617.50,193.83 618.14,193.89 618.77,193.95 619.41,194.03 620.05,194.10 620.69,194.19 621.33,194.28 621.97,194.38 622.61,194.48 623.25,194.59 623.89,194.71 624.53,194.83 625.17,194.95 625.80,195.09 626.44,195.22 627.08,195.36 627.72,195.50 628.36,195.65 629.00,195.80 629.64,195.96 630.28,196.12 630.92,196.28 631.56,196.44 632.19,196.61 632.83,196.78 633.47,196.95 634.11,197.12 634.75,197.29 635.39,197.47 636.03,197.65 636.67,197.83 637.31,198.01 637.95,198.19 638.58,198.37 639.22,198.55 639.86,198.73 640.50,198.91 641.14,199.09 641.78,199.27 642.42,199.44 643.06,199.62 643.70,199.80 644.34,199.97 644.97,200.14 645.61,200.31 646.25,200.48 646.89,200.64 647.53,200.81 648.17,200.96" fill="none" stroke="#0072BD" stroke-width="2.0" stroke-linejoin="round"/>
<text transform="translate(392.70,220.90) scale(1.000,1.180)" font-size="8.0" text-anchor="middle" fill="#262626"  stroke="#262626" stroke-width="0.1">0</text>
<text transform="translate(428.11,220.90) scale(1.000,1.180)" font-size="8.0" text-anchor="middle" fill="#262626"  stroke="#262626" stroke-width="0.1">50</text>
<text transform="translate(463.52,220.90) scale(1.000,1.180)" font-size="8.0" text-anchor="middle" fill="#262626"  stroke="#262626" stroke-width="0.1">100</text>
<g transform="translate(463.52,220.90) scale(1.000,1.180)"><rect x="-6.28" y="-0.77" width="1.57" height="1.12" fill="#fff"/><rect x="-3.91" y="-0.77" width="1.53" height="1.12" fill="#fff"/></g>
<text transform="translate(498.94,220.90) scale(1.000,1.180)" font-size="8.0" text-anchor="middle" fill="#262626"  stroke="#262626" stroke-width="0.1">150</text>
<g transform="translate(498.94,220.90) scale(1.000,1.180)"><rect x="-6.28" y="-0.77" width="1.57" height="1.12" fill="#fff"/><rect x="-3.91" y="-0.77" width="1.53" height="1.12" fill="#fff"/></g>
<text transform="translate(534.35,220.90) scale(1.000,1.180)" font-size="8.0" text-anchor="middle" fill="#262626"  stroke="#262626" stroke-width="0.1">200</text>
<text transform="translate(569.76,220.90) scale(1.000,1.180)" font-size="8.0" text-anchor="middle" fill="#262626"  stroke="#262626" stroke-width="0.1">250</text>
<text transform="translate(605.17,220.90) scale(1.000,1.180)" font-size="8.0" text-anchor="middle" fill="#262626"  stroke="#262626" stroke-width="0.1">300</text>
<text transform="translate(640.59,220.90) scale(1.000,1.180)" font-size="8.0" text-anchor="middle" fill="#262626"  stroke="#262626" stroke-width="0.1">350</text>
<text transform="translate(676.00,220.90) scale(1.000,1.180)" font-size="8.0" text-anchor="middle" fill="#262626"  stroke="#262626" stroke-width="0.1">400</text>
<text transform="translate(389.60,212.60) scale(1.000,1.180)" font-size="8.0" text-anchor="end" fill="#262626"  stroke="#262626" stroke-width="0.1">0</text>
<text transform="translate(389.60,179.98) scale(1.000,1.180)" font-size="8.0" text-anchor="end" fill="#262626"  stroke="#262626" stroke-width="0.1">2</text>
<text transform="translate(389.60,147.37) scale(1.000,1.180)" font-size="8.0" text-anchor="end" fill="#262626"  stroke="#262626" stroke-width="0.1">4</text>
<text transform="translate(393.45,134.47)" font-size="8.6" text-anchor="start" fill="#666" stroke="none">×</text>
<text transform="translate(400.00,134.22) scale(1.000,1.150)" font-size="8.3" text-anchor="start" fill="#262626"  stroke="#262626" stroke-width="0.1">10</text>
<g transform="translate(400.00,134.22) scale(1.000,1.150)"><rect x="0.41" y="-0.80" width="1.63" height="1.15" fill="#fff"/><rect x="2.87" y="-0.80" width="1.59" height="1.15" fill="#fff"/></g>
<text transform="translate(408.80,129.47)" font-size="5.6" text-anchor="start" fill="#262626"  stroke="#262626" stroke-width="0.1">4</text>
<text transform="translate(535.55,131.37)" font-size="10.2" text-anchor="middle" fill="#1a1a1a" stroke="#1a1a1a" stroke-width="0.35">T4</text>
<text transform="translate(382.10,173.09) scale(1.000,1.120) rotate(-90)" font-size="8.8" text-anchor="middle" fill="#262626"  stroke="#262626" stroke-width="0.1">T (N)</text>
<text transform="translate(516.55,232.90) scale(1.220,1.000)" font-size="10.8" text-anchor="start" font-family="Liberation Serif" fill="#555" font-style="italic" stroke="none">ϕ</text>
<text transform="translate(522.85,237.40)" font-size="7.8" text-anchor="start" fill="#262626"  stroke="#262626" stroke-width="0.1">s</text>
<text transform="translate(529.25,232.30) scale(1.070,1.000)" font-size="9.3" text-anchor="start" fill="#262626"  stroke="#262626" stroke-width="0.1">(deg)</text>
<path d="M54.92 256.40V330.20M90.30 256.40V330.20M125.67 256.40V330.20M161.05 256.40V330.20M196.43 256.40V330.20M231.80 256.40V330.20M267.18 256.40V330.20M19.55 297.33H302.55M19.55 264.46H302.55" stroke="#e0e0e0" stroke-width="0.85" fill="none"/>
<path d="M19.55 330.20v-2.9M19.55 256.40v2.9M54.92 330.20v-2.9M54.92 256.40v2.9M90.30 330.20v-2.9M90.30 256.40v2.9M125.67 330.20v-2.9M125.67 256.40v2.9M161.05 330.20v-2.9M161.05 256.40v2.9M196.43 330.20v-2.9M196.43 256.40v2.9M231.80 330.20v-2.9M231.80 256.40v2.9M267.18 330.20v-2.9M267.18 256.40v2.9M302.55 330.20v-2.9M302.55 256.40v2.9M19.55 330.20h2.9M302.55 330.20h-2.9M19.55 297.33h2.9M302.55 297.33h-2.9M19.55 264.46h2.9M302.55 264.46h-2.9" stroke="#262626" stroke-opacity="0.7" stroke-width="1.05" fill="none"/>
<rect x="19.55" y="256.40" width="283.00" height="73.80" fill="none" stroke="#262626" stroke-width="1.05" stroke-opacity="0.7"/>
<polyline points="19.55,321.44 20.19,321.14 20.83,320.85 21.47,320.57 22.10,320.30 22.74,320.03 23.38,319.77 24.02,319.51 24.66,319.26 25.30,319.02 25.93,318.79 26.57,318.56 27.21,318.34 27.85,318.13 28.49,317.92 29.13,317.72 29.76,317.52 30.40,317.33 31.04,317.15 31.68,316.98 32.32,316.81 32.96,316.64 33.59,316.49 34.23,316.34 34.87,316.19 35.51,316.06 36.15,315.92 36.79,315.80 37.42,315.68 38.06,315.57 38.70,315.46 39.34,315.36 39.98,315.26 40.62,315.17 41.25,315.09 41.89,315.01 42.53,314.94 43.17,314.88 43.81,314.82 44.45,314.76 45.08,314.72 45.72,314.67 46.36,314.64 47.00,314.60 47.64,314.58 48.28,314.56 48.91,314.54 49.55,314.53 50.19,314.53 50.83,314.53 51.47,314.53 52.11,314.54 52.74,314.55 53.38,314.57 54.02,314.58 54.66,314.60 55.30,314.62 55.94,314.65 56.57,314.67 57.21,314.70 57.85,314.73 58.49,314.75 59.13,314.78 59.77,314.81 60.40,314.84 61.04,314.86 61.68,314.89 62.32,314.91 62.96,314.94 63.60,314.96 64.23,314.97 64.87,314.99 65.51,315.00 66.15,315.01 66.79,315.01 67.43,315.01 68.06,315.01 68.70,315.00 69.34,314.99 69.98,314.97 70.62,314.94 71.26,314.91 71.89,314.87 72.53,314.83 73.17,314.78 73.81,314.72 74.45,314.65 75.09,314.58 75.72,314.49 76.36,314.40 77.00,314.30 77.64,314.19 78.28,314.07 78.92,313.94 79.55,313.80 80.19,313.65 80.83,313.49 81.47,313.31 82.11,313.12 82.75,312.92 83.38,312.70 84.02,312.46 84.66,312.19 85.30,311.91 85.94,311.61 86.58,311.28 87.21,310.92 87.85,310.55 88.49,310.17 89.13,309.77 89.77,309.36 90.41,308.95 91.04,308.53 91.68,308.10 92.32,307.68 92.96,307.27 93.60,306.85 94.24,306.44 94.87,306.03 95.51,305.64 96.15,305.24 96.79,304.86 97.43,304.48 98.07,304.12 98.70,303.75 99.34,303.39 99.98,303.01 100.62,302.62 101.26,302.21 101.90,301.76 102.53,301.28 103.17,300.75 103.81,300.17 104.45,299.54 105.09,298.87 105.73,298.15 106.37,297.38 107.00,296.58 107.64,295.74 108.28,294.87 108.92,293.97 109.56,293.04 110.20,292.09 110.83,291.12 111.47,290.13 112.11,289.14 112.75,288.14 113.39,287.14 114.03,286.15 114.66,285.17 115.30,284.21 115.94,283.27 116.58,282.35 117.22,281.45 117.86,280.59 118.49,279.76 119.13,278.96 119.77,278.20 120.41,277.49 121.05,276.82 121.69,276.20 122.32,275.61 122.96,275.06 123.60,274.53 124.24,274.03 124.88,273.54 125.52,273.07 126.15,272.59 126.79,272.12 127.43,271.65 128.07,271.16 128.71,270.67 129.35,270.17 129.98,269.66 130.62,269.13 131.26,268.59 131.90,268.03 132.54,267.45 133.18,266.84 133.81,266.23 134.45,265.60 135.09,264.96 135.73,264.32 136.37,263.67 137.01,263.03 137.64,262.39 138.28,261.76 138.92,261.15 139.56,260.55 140.20,259.97 140.84,259.42 141.47,258.90 142.11,258.41 142.75,257.95 143.39,257.54 144.03,257.17 144.67,256.84 145.30,256.57 145.94,256.35 146.58,256.19 147.22,256.09 147.86,256.06 148.50,256.10 149.13,256.21 149.77,256.39 150.41,256.64 151.05,256.96 151.69,257.32 152.33,257.74 152.96,258.20 153.60,258.69 154.24,259.22 154.88,259.76 155.52,260.33 156.16,260.90 156.79,261.48 157.43,262.06 158.07,262.63 158.71,263.19 159.35,263.73 159.99,264.25 160.62,264.75 161.26,265.23 161.90,265.71 162.54,266.16 163.18,266.61 163.82,267.04 164.45,267.46 165.09,267.87 165.73,268.28 166.37,268.70 167.01,269.14 167.65,269.59 168.28,270.09 168.92,270.62 169.56,271.20 170.20,271.84 170.84,272.55 171.48,273.31 172.11,274.13 172.75,275.01 173.39,275.93 174.03,276.89 174.67,277.89 175.31,278.91 175.94,279.97 176.58,281.04 177.22,282.13 177.86,283.23 178.50,284.33 179.14,285.42 179.77,286.51 180.41,287.57 181.05,288.61 181.69,289.61 182.33,290.58 182.97,291.51 183.60,292.41 184.24,293.26 184.88,294.09 185.52,294.88 186.16,295.64 186.80,296.37 187.43,297.07 188.07,297.75 188.71,298.40 189.35,299.03 189.99,299.63 190.63,300.22 191.27,300.78 191.90,301.33 192.54,301.86 193.18,302.37 193.82,302.87 194.46,303.36 195.10,303.84 195.73,304.31 196.37,304.78 197.01,305.23 197.65,305.68 198.29,306.13 198.93,306.58 199.56,307.02 200.20,307.47 200.84,307.91 201.48,308.36 202.12,308.81 202.76,309.25 203.39,309.70 204.03,310.15 204.67,310.60 205.31,311.05 205.95,311.50 206.59,311.96 207.22,312.41 207.86,312.86 208.50,313.32 209.14,313.77 209.78,314.23 210.42,314.69 211.05,315.15 211.69,315.61 212.33,316.07 212.97,316.53 213.61,317.00 214.25,317.46 214.88,317.93 215.52,318.40 216.16,318.87 216.80,319.33 217.44,319.79 218.08,320.25 218.71,320.71 219.35,321.16 219.99,321.60 220.63,322.03 221.27,322.46 221.91,322.87 222.54,323.28 223.18,323.67 223.82,324.05 224.46,324.41 225.10,324.76 225.74,325.10 226.37,325.41 227.01,325.71 227.65,325.99 228.29,326.24 228.93,326.48 229.57,326.70 230.20,326.90 230.84,327.08 231.48,327.25 232.12,327.40 232.76,327.53 233.40,327.65 234.03,327.76 234.67,327.86 235.31,327.94 235.95,328.01 236.59,328.07 237.23,328.13 237.86,328.17 238.50,328.21 239.14,328.24 239.78,328.27 240.42,328.29 241.06,328.30 241.69,328.31 242.33,328.32 242.97,328.33 243.61,328.34 244.25,328.35 244.89,328.35 245.52,328.35 246.16,328.35 246.80,328.34 247.44,328.34 248.08,328.32 248.72,328.30 249.35,328.27 249.99,328.24 250.63,328.19 251.27,328.14 251.91,328.08 252.55,328.01 253.18,327.93 253.82,327.84 254.46,327.73 255.10,327.61 255.74,327.48 256.38,327.33 257.01,327.17 257.65,327.00 258.29,326.80 258.93,326.59 259.57,326.37 260.21,326.12 260.84,325.87 261.48,325.60 262.12,325.32 262.76,325.04 263.40,324.75 264.04,324.45 264.67,324.15 265.31,323.85 265.95,323.55 266.59,323.26 267.23,322.96 267.87,322.68 268.50,322.40 269.14,322.13 269.78,321.87 270.42,321.62 271.06,321.39 271.70,321.17 272.33,320.97 272.97,320.80 273.61,320.64 274.25,320.51" fill="none" stroke="#0072BD" stroke-width="2.0" stroke-linejoin="round"/>
<text transform="translate(19.05,341.80) scale(1.000,1.180)" font-size="8.0" text-anchor="middle" fill="#262626"  stroke="#262626" stroke-width="0.1">0</text>
<text transform="translate(54.42,341.80) scale(1.000,1.180)" font-size="8.0" text-anchor="middle" fill="#262626"  stroke="#262626" stroke-width="0.1">50</text>
<text transform="translate(89.80,341.80) scale(1.000,1.180)" font-size="8.0" text-anchor="middle" fill="#262626"  stroke="#262626" stroke-width="0.1">100</text>
<g transform="translate(89.80,341.80) scale(1.000,1.180)"><rect x="-6.28" y="-0.77" width="1.57" height="1.12" fill="#fff"/><rect x="-3.91" y="-0.77" width="1.53" height="1.12" fill="#fff"/></g>
<text transform="translate(125.17,341.80) scale(1.000,1.180)" font-size="8.0" text-anchor="middle" fill="#262626"  stroke="#262626" stroke-width="0.1">150</text>
<g transform="translate(125.17,341.80) scale(1.000,1.180)"><rect x="-6.28" y="-0.77" width="1.57" height="1.12" fill="#fff"/><rect x="-3.91" y="-0.77" width="1.53" height="1.12" fill="#fff"/></g>
<text transform="translate(160.55,341.80) scale(1.000,1.180)" font-size="8.0" text-anchor="middle" fill="#262626"  stroke="#262626" stroke-width="0.1">200</text>
<text transform="translate(195.93,341.80) scale(1.000,1.180)" font-size="8.0" text-anchor="middle" fill="#262626"  stroke="#262626" stroke-width="0.1">250</text>
<text transform="translate(231.30,341.80) scale(1.000,1.180)" font-size="8.0" text-anchor="middle" fill="#262626"  stroke="#262626" stroke-width="0.1">300</text>
<text transform="translate(266.68,341.80) scale(1.000,1.180)" font-size="8.0" text-anchor="middle" fill="#262626"  stroke="#262626" stroke-width="0.1">350</text>
<text transform="translate(302.05,341.80) scale(1.000,1.180)" font-size="8.0" text-anchor="middle" fill="#262626"  stroke="#262626" stroke-width="0.1">400</text>
<text transform="translate(15.95,333.50) scale(1.000,1.180)" font-size="8.0" text-anchor="end" fill="#262626"  stroke="#262626" stroke-width="0.1">0</text>
<text transform="translate(15.95,300.63) scale(1.000,1.180)" font-size="8.0" text-anchor="end" fill="#262626"  stroke="#262626" stroke-width="0.1">2</text>
<text transform="translate(15.95,267.76) scale(1.000,1.180)" font-size="8.0" text-anchor="end" fill="#262626"  stroke="#262626" stroke-width="0.1">4</text>
<text transform="translate(19.80,254.80)" font-size="8.6" text-anchor="start" fill="#666" stroke="none">×</text>
<text transform="translate(26.35,254.55) scale(1.000,1.150)" font-size="8.3" text-anchor="start" fill="#262626"  stroke="#262626" stroke-width="0.1">10</text>
<g transform="translate(26.35,254.55) scale(1.000,1.150)"><rect x="0.41" y="-0.80" width="1.63" height="1.15" fill="#fff"/><rect x="2.87" y="-0.80" width="1.59" height="1.15" fill="#fff"/></g>
<text transform="translate(35.15,249.80)" font-size="5.6" text-anchor="start" fill="#262626"  stroke="#262626" stroke-width="0.1">4</text>
<text transform="translate(161.75,251.70)" font-size="10.2" text-anchor="middle" fill="#1a1a1a" stroke="#1a1a1a" stroke-width="0.35">T5</text>
<text transform="translate(8.45,293.70) scale(1.000,1.120) rotate(-90)" font-size="8.8" text-anchor="middle" fill="#262626"  stroke="#262626" stroke-width="0.1">T (N)</text>
<text transform="translate(142.75,353.80) scale(1.220,1.000)" font-size="10.8" text-anchor="start" font-family="Liberation Serif" fill="#555" font-style="italic" stroke="none">ϕ</text>
<text transform="translate(149.05,358.30)" font-size="7.8" text-anchor="start" fill="#262626"  stroke="#262626" stroke-width="0.1">s</text>
<text transform="translate(155.45,353.20) scale(1.070,1.000)" font-size="9.3" text-anchor="start" fill="#262626"  stroke="#262626" stroke-width="0.1">(deg)</text>
<path d="M428.61 256.40V330.20M464.02 256.40V330.20M499.44 256.40V330.20M534.85 256.40V330.20M570.26 256.40V330.20M605.67 256.40V330.20M641.09 256.40V330.20M393.20 297.33H676.50M393.20 264.46H676.50" stroke="#e0e0e0" stroke-width="0.85" fill="none"/>
<path d="M393.20 330.20v-2.9M393.20 256.40v2.9M428.61 330.20v-2.9M428.61 256.40v2.9M464.02 330.20v-2.9M464.02 256.40v2.9M499.44 330.20v-2.9M499.44 256.40v2.9M534.85 330.20v-2.9M534.85 256.40v2.9M570.26 330.20v-2.9M570.26 256.40v2.9M605.67 330.20v-2.9M605.67 256.40v2.9M641.09 330.20v-2.9M641.09 256.40v2.9M676.50 330.20v-2.9M676.50 256.40v2.9M393.20 330.20h2.9M676.50 330.20h-2.9M393.20 297.33h2.9M676.50 297.33h-2.9M393.20 264.46h2.9M676.50 264.46h-2.9" stroke="#262626" stroke-opacity="0.7" stroke-width="1.05" fill="none"/>
<rect x="393.20" y="256.40" width="283.30" height="73.80" fill="none" stroke="#262626" stroke-width="1.05" stroke-opacity="0.7"/>
<polyline points="393.20,299.77 393.84,300.20 394.48,300.63 395.12,301.06 395.76,301.50 396.40,301.95 397.03,302.39 397.67,302.84 398.31,303.28 398.95,303.73 399.59,304.18 400.23,304.63 400.87,305.07 401.51,305.52 402.15,305.96 402.79,306.40 403.42,306.84 404.06,307.27 404.70,307.70 405.34,308.12 405.98,308.54 406.62,308.95 407.26,309.35 407.90,309.74 408.54,310.13 409.18,310.51 409.81,310.88 410.45,311.24 411.09,311.59 411.73,311.92 412.37,312.25 413.01,312.56 413.65,312.85 414.29,313.13 414.93,313.39 415.57,313.64 416.20,313.86 416.84,314.07 417.48,314.25 418.12,314.41 418.76,314.55 419.40,314.66 420.04,314.75 420.68,314.82 421.32,314.87 421.96,314.90 422.60,314.92 423.23,314.93 423.87,314.94 424.51,314.93 425.15,314.93 425.79,314.92 426.43,314.91 427.07,314.90 427.71,314.88 428.35,314.87 428.99,314.85 429.62,314.83 430.26,314.81 430.90,314.79 431.54,314.76 432.18,314.74 432.82,314.72 433.46,314.70 434.10,314.67 434.74,314.65 435.38,314.63 436.01,314.61 436.65,314.59 437.29,314.57 437.93,314.56 438.57,314.54 439.21,314.53 439.85,314.52 440.49,314.51 441.13,314.51 441.77,314.50 442.40,314.50 443.04,314.51 443.68,314.51 444.32,314.53 444.96,314.54 445.60,314.56 446.24,314.58 446.88,314.61 447.52,314.64 448.16,314.68 448.79,314.72 449.43,314.77 450.07,314.83 450.71,314.89 451.35,314.95 451.99,315.02 452.63,315.10 453.27,315.19 453.91,315.28 454.55,315.38 455.19,315.49 455.82,315.60 456.46,315.73 457.10,315.86 457.74,316.00 458.38,316.14 459.02,316.30 459.66,316.46 460.30,316.63 460.94,316.81 461.58,316.99 462.21,317.17 462.85,317.36 463.49,317.55 464.13,317.74 464.77,317.93 465.41,318.12 466.05,318.31 466.69,318.50 467.33,318.69 467.97,318.87 468.60,319.05 469.24,319.23 469.88,319.40 470.52,319.56 471.16,319.72 471.80,319.88 472.44,320.03 473.08,320.19 473.72,320.35 474.36,320.51 474.99,320.67 475.63,320.83 476.27,321.00 476.91,321.18 477.55,321.37 478.19,321.56 478.83,321.77 479.47,321.98 480.11,322.21 480.75,322.45 481.39,322.71 482.02,322.98 482.66,323.25 483.30,323.54 483.94,323.83 484.58,324.13 485.22,324.43 485.86,324.74 486.50,325.04 487.14,325.34 487.78,325.64 488.41,325.93 489.05,326.22 489.69,326.50 490.33,326.76 490.97,327.02 491.61,327.26 492.25,327.49 492.89,327.70 493.53,327.89 494.17,328.06 494.80,328.21 495.44,328.35 496.08,328.46 496.72,328.56 497.36,328.64 498.00,328.70 498.64,328.75 499.28,328.79 499.92,328.81 500.56,328.83 501.19,328.83 501.83,328.83 502.47,328.82 503.11,328.80 503.75,328.78 504.39,328.75 505.03,328.72 505.67,328.68 506.31,328.65 506.95,328.61 507.59,328.58 508.22,328.55 508.86,328.52 509.50,328.49 510.14,328.47 510.78,328.46 511.42,328.45 512.06,328.44 512.70,328.43 513.34,328.42 513.98,328.40 514.61,328.37 515.25,328.33 515.89,328.27 516.53,328.19 517.17,328.09 517.81,327.97 518.45,327.82 519.09,327.63 519.73,327.42 520.37,327.17 521.00,326.88 521.64,326.55 522.28,326.20 522.92,325.83 523.56,325.44 524.20,325.04 524.84,324.63 525.48,324.22 526.12,323.82 526.76,323.42 527.39,323.02 528.03,322.63 528.67,322.24 529.31,321.86 529.95,321.47 530.59,321.09 531.23,320.71 531.87,320.33 532.51,319.95 533.15,319.57 533.78,319.19 534.42,318.80 535.06,318.42 535.70,318.04 536.34,317.65 536.98,317.26 537.62,316.87 538.26,316.47 538.90,316.07 539.54,315.67 540.18,315.26 540.81,314.84 541.45,314.42 542.09,314.00 542.73,313.56 543.37,313.12 544.01,312.68 544.65,312.22 545.29,311.76 545.93,311.29 546.57,310.81 547.20,310.32 547.84,309.82 548.48,309.31 549.12,308.80 549.76,308.28 550.40,307.76 551.04,307.23 551.68,306.70 552.32,306.18 552.96,305.65 553.59,305.13 554.23,304.61 554.87,304.10 555.51,303.60 556.15,303.10 556.79,302.62 557.43,302.14 558.07,301.68 558.71,301.23 559.35,300.77 559.98,300.31 560.62,299.83 561.26,299.32 561.90,298.77 562.54,298.17 563.18,297.52 563.82,296.80 564.46,296.03 565.10,295.19 565.74,294.30 566.38,293.36 567.01,292.38 567.65,291.35 568.29,290.29 568.93,289.19 569.57,288.07 570.21,286.92 570.85,285.75 571.49,284.58 572.13,283.41 572.77,282.26 573.40,281.14 574.04,280.08 574.68,279.08 575.32,278.14 575.96,277.26 576.60,276.43 577.24,275.65 577.88,274.93 578.52,274.24 579.16,273.60 579.79,272.99 580.43,272.41 581.07,271.87 581.71,271.35 582.35,270.86 582.99,270.39 583.63,269.93 584.27,269.49 584.91,269.06 585.55,268.64 586.18,268.21 586.82,267.79 587.46,267.37 588.10,266.93 588.74,266.49 589.38,266.03 590.02,265.56 590.66,265.07 591.30,264.57 591.94,264.05 592.58,263.53 593.21,263.01 593.85,262.48 594.49,261.96 595.13,261.44 595.77,260.93 596.41,260.44 597.05,259.95 597.69,259.49 598.33,259.04 598.97,258.62 599.60,258.23 600.24,257.86 600.88,257.53 601.52,257.24 602.16,256.98 602.80,256.76 603.44,256.58 604.08,256.45 604.72,256.37 605.36,256.34 605.99,256.36 606.63,256.44 607.27,256.57 607.91,256.77 608.55,257.03 609.19,257.36 609.83,257.73 610.47,258.16 611.11,258.63 611.75,259.15 612.38,259.70 613.02,260.29 613.66,260.90 614.30,261.54 614.94,262.19 615.58,262.86 616.22,263.55 616.86,264.23 617.50,264.92 618.14,265.61 618.77,266.28 619.41,266.95 620.05,267.60 620.69,268.23 621.33,268.83 621.97,269.40 622.61,269.94 623.25,270.47 623.89,270.97 624.53,271.46 625.17,271.94 625.80,272.43 626.44,272.92 627.08,273.41 627.72,273.93 628.36,274.47 629.00,275.03 629.64,275.63 630.28,276.26 630.92,276.94 631.56,277.66 632.19,278.43 632.83,279.23 633.47,280.07 634.11,280.93 634.75,281.81 635.39,282.71 636.03,283.62 636.67,284.55 637.31,285.48 637.95,286.42 638.58,287.37 639.22,288.33 639.86,289.30 640.50,290.27 641.14,291.26 641.78,292.25 642.42,293.25 643.06,294.25 643.70,295.27 644.34,296.28 644.97,297.31 645.61,298.33 646.25,299.36 646.89,300.40 647.53,301.44 648.17,302.48" fill="none" stroke="#0072BD" stroke-width="2.0" stroke-linejoin="round"/>
<text transform="translate(392.70,341.80) scale(1.000,1.180)" font-size="8.0" text-anchor="middle" fill="#262626"  stroke="#262626" stroke-width="0.1">0</text>
<text transform="translate(428.11,341.80) scale(1.000,1.180)" font-size="8.0" text-anchor="middle" fill="#262626"  stroke="#262626" stroke-width="0.1">50</text>
<text transform="translate(463.52,341.80) scale(1.000,1.180)" font-size="8.0" text-anchor="middle" fill="#262626"  stroke="#262626" stroke-width="0.1">100</text>
<g transform="translate(463.52,341.80) scale(1.000,1.180)"><rect x="-6.28" y="-0.77" width="1.57" height="1.12" fill="#fff"/><rect x="-3.91" y="-0.77" width="1.53" height="1.12" fill="#fff"/></g>
<text transform="translate(498.94,341.80) scale(1.000,1.180)" font-size="8.0" text-anchor="middle" fill="#262626"  stroke="#262626" stroke-width="0.1">150</text>
<g transform="translate(498.94,341.80) scale(1.000,1.180)"><rect x="-6.28" y="-0.77" width="1.57" height="1.12" fill="#fff"/><rect x="-3.91" y="-0.77" width="1.53" height="1.12" fill="#fff"/></g>
<text transform="translate(534.35,341.80) scale(1.000,1.180)" font-size="8.0" text-anchor="middle" fill="#262626"  stroke="#262626" stroke-width="0.1">200</text>
<text transform="translate(569.76,341.80) scale(1.000,1.180)" font-size="8.0" text-anchor="middle" fill="#262626"  stroke="#262626" stroke-width="0.1">250</text>
<text transform="translate(605.17,341.80) scale(1.000,1.180)" font-size="8.0" text-anchor="middle" fill="#262626"  stroke="#262626" stroke-width="0.1">300</text>
<text transform="translate(640.59,341.80) scale(1.000,1.180)" font-size="8.0" text-anchor="middle" fill="#262626"  stroke="#262626" stroke-width="0.1">350</text>
<text transform="translate(676.00,341.80) scale(1.000,1.180)" font-size="8.0" text-anchor="middle" fill="#262626"  stroke="#262626" stroke-width="0.1">400</text>
<text transform="translate(389.60,333.50) scale(1.000,1.180)" font-size="8.0" text-anchor="end" fill="#262626"  stroke="#262626" stroke-width="0.1">0</text>
<text transform="translate(389.60,300.63) scale(1.000,1.180)" font-size="8.0" text-anchor="end" fill="#262626"  stroke="#262626" stroke-width="0.1">2</text>
<text transform="translate(389.60,267.76) scale(1.000,1.180)" font-size="8.0" text-anchor="end" fill="#262626"  stroke="#262626" stroke-width="0.1">4</text>
<text transform="translate(393.45,254.80)" font-size="8.6" text-anchor="start" fill="#666" stroke="none">×</text>
<text transform="translate(400.00,254.55) scale(1.000,1.150)" font-size="8.3" text-anchor="start" fill="#262626"  stroke="#262626" stroke-width="0.1">10</text>
<g transform="translate(400.00,254.55) scale(1.000,1.150)"><rect x="0.41" y="-0.80" width="1.63" height="1.15" fill="#fff"/><rect x="2.87" y="-0.80" width="1.59" height="1.15" fill="#fff"/></g>
<text transform="translate(408.80,249.80)" font-size="5.6" text-anchor="start" fill="#262626"  stroke="#262626" stroke-width="0.1">4</text>
<text transform="translate(535.55,251.70)" font-size="10.2" text-anchor="middle" fill="#1a1a1a" stroke="#1a1a1a" stroke-width="0.35">T6</text>
<text transform="translate(382.10,293.70) scale(1.000,1.120) rotate(-90)" font-size="8.8" text-anchor="middle" fill="#262626"  stroke="#262626" stroke-width="0.1">T (N)</text>
<text transform="translate(516.55,353.80) scale(1.220,1.000)" font-size="10.8" text-anchor="start" font-family="Liberation Serif" fill="#555" font-style="italic" stroke="none">ϕ</text>
<text transform="translate(522.85,358.30)" font-size="7.8" text-anchor="start" fill="#262626"  stroke="#262626" stroke-width="0.1">s</text>
<text transform="translate(529.25,353.20) scale(1.070,1.000)" font-size="9.3" text-anchor="start" fill="#262626"  stroke="#262626" stroke-width="0.1">(deg)</text>
<circle cx="232.86" cy="14.45" r="2.9" fill="#ff0000"/>
<text transform="translate(233.56,11.15) scale(1.000,1.100)" font-size="8.0" text-anchor="middle" fill="#262626"  stroke="#262626" stroke-width="0.1">Max=44905N</text>
<circle cx="68.01" cy="87.08" r="2.9" fill="#0000ff"/>
<text transform="translate(68.61,82.98) scale(1.000,1.100)" font-size="8.0" text-anchor="middle" fill="#262626"  stroke="#262626" stroke-width="0.1">Min=1096N</text>
<g transform="translate(68.61,82.98) scale(1.000,1.100)"><rect x="-2.62" y="-0.77" width="1.57" height="1.12" fill="#fff"/><rect x="-0.24" y="-0.77" width="1.53" height="1.12" fill="#fff"/></g>
</g></svg></body></html>
